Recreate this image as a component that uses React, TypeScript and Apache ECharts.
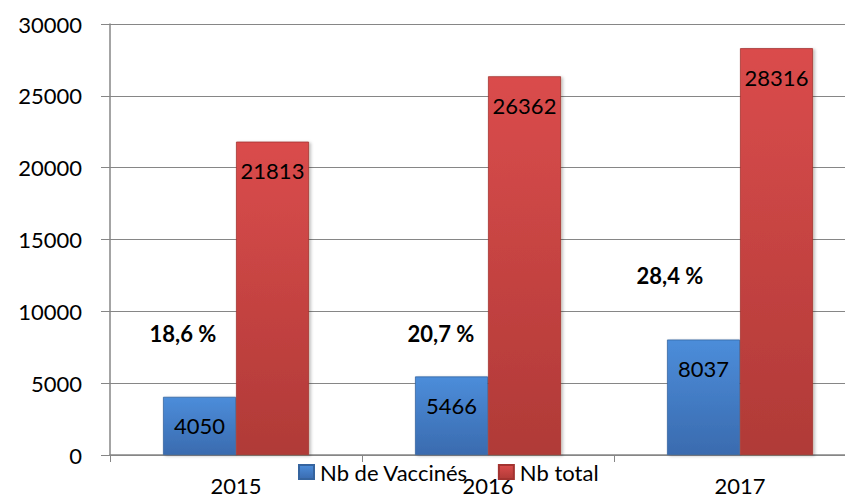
import React, { useEffect, useRef } from "react";
import * as echarts from "echarts";

const categories = ["2015", "2016", "2017"];
const vaccines = [4050, 5466, 8037];
const totals = [21813, 26362, 28316];
const pctLabels = ["18,6 %", "20,7 %", "28,4 %"];
const pctY = [8490, 8490, 12460];
const pctOffsetX = [-53, -47, -70];
const yTicks = { min: 0, max: 30000, interval: 5000 };

const FONT = "Lato, 'Open Sans', sans-serif";
const GRID = "#868686";

export default function App() {
  const ref = useRef<HTMLDivElement>(null);
  useEffect(() => {
    if (!ref.current) return;
    const chart = echarts.init(ref.current, null, { renderer: "svg" });
    const blue = new echarts.graphic.LinearGradient(0, 0, 0, 1, [
      { offset: 0, color: "#4C8DDA" },
      { offset: 1, color: "#3A6BAF" },
    ]);
    const red = new echarts.graphic.LinearGradient(0, 0, 0, 1, [
      { offset: 0, color: "#DA4C4C" },
      { offset: 1, color: "#B03A37" },
    ]);
    const valLabel = {
      show: true,
      position: "insideTop" as const,
      distance: 18,
      color: "#000",
      fontSize: 22,
      fontFamily: FONT,
      textBorderWidth: 0,
    };
    chart.setOption({
      animation: false,
      backgroundColor: "#fff",
      grid: { left: 110, top: 24, width: 756, height: 431, containLabel: false },
      legend: {
        data: ["Nb de Vaccinés", "Nb total"],
        left: 293,
        top: 456,
        itemWidth: 15,
        itemHeight: 14,
        itemGap: 30,
        icon: "rect",
        textStyle: { fontSize: 22, fontFamily: FONT, color: "#000", padding: [0, 0, 0, 1] },
      },
      xAxis: {
        type: "category",
        data: categories,
        axisLine: { show: true, lineStyle: { color: GRID, width: 1.5 } },
        axisTick: { show: true, length: 7, lineStyle: { color: GRID } },
        axisLabel: { margin: 19, fontSize: 22, fontFamily: FONT, color: "#000" },
        splitLine: { show: false },
      },
      yAxis: {
        type: "value",
        min: yTicks.min,
        max: yTicks.max,
        interval: yTicks.interval,
        axisLine: { show: true, lineStyle: { color: GRID, width: 1.5 } },
        axisTick: { show: true, length: 9, lineStyle: { color: GRID } },
        axisLabel: {
          margin: 28,
          fontSize: 22,
          fontFamily: FONT,
          color: "#000",
          formatter: (v: number) => String(v),
        },
        splitLine: { show: true, lineStyle: { color: GRID, width: 1 } },
      },
      series: [
        {
          name: "Nb de Vaccinés",
          type: "bar",
          data: vaccines,
          barWidth: 73,
          barGap: "0%",
          itemStyle: { color: blue, borderColor: "#35649F", borderWidth: 0.8, shadowColor: "rgba(0,0,0,0.25)", shadowBlur: 3, shadowOffsetX: 2, shadowOffsetY: 1 },
          label: valLabel,
        },
        {
          name: "Nb total",
          type: "bar",
          data: totals,
          barWidth: 73,
          barGap: "0%",
          itemStyle: { color: red, borderColor: "#A33330", borderWidth: 0.8, shadowColor: "rgba(0,0,0,0.25)", shadowBlur: 3, shadowOffsetX: 2, shadowOffsetY: 1 },
          label: valLabel,
        },
        {
          name: "pct",
          type: "scatter",
          symbolSize: 0,
          silent: true,
          itemStyle: { color: "#000", opacity: 1 },
          data: pctY.map((v, i) => ({
            value: [i, v],
            label: {
              show: true,
              position: "inside",
              offset: [pctOffsetX[i], 0],
              formatter: () => pctLabels[i],
              fontSize: 22,
              fontWeight: "bold",
              fontFamily: FONT,
              color: "#000",
              textBorderWidth: 0,
              textBorderColor: "transparent",
              opacity: 1,
            },
          })),
        },
      ],
    });
    return () => chart.dispose();
  }, []);
  return (
    <div style={{ position: "fixed", left: 0, top: 0, width: 845, height: 497, overflow: "hidden", background: "#fff" }}>
      <div ref={ref} style={{ width: 880, height: 497 }} />
    </div>
  );
}
